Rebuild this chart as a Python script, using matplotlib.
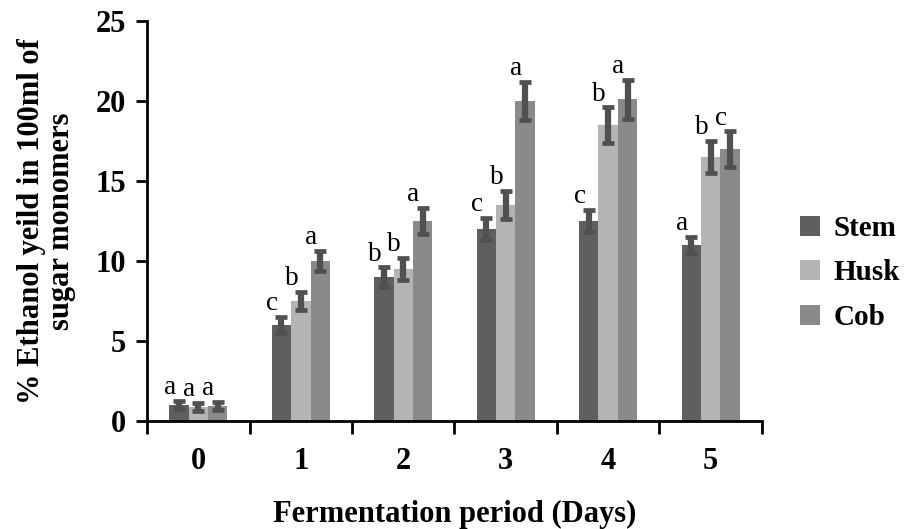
import matplotlib
matplotlib.use("Agg")
import matplotlib.pyplot as plt
import numpy as np
from matplotlib.patches import Patch

# Fermentation days and ethanol yield per substrate
days = ["0", "1", "2", "3", "4", "5"]
series_names = ["Stem", "Husk", "Cob"]
stem = [1.0, 6.0, 9.0, 12.0, 12.5, 11.0]
husk = [0.9, 7.5, 9.5, 13.5, 18.5, 16.5]
cob = [0.95, 10.0, 12.5, 20.0, 20.1, 17.0]
stem_err = [0.25, 0.5, 0.6, 0.7, 0.7, 0.5]
husk_err = [0.25, 0.55, 0.7, 0.9, 1.1, 1.0]
cob_err = [0.25, 0.65, 0.8, 1.2, 1.2, 1.1]
# Significance letters above each bar
stem_sig = ["a", "c", "b", "c", "c", "a"]
husk_sig = ["a", "b", "b", "b", "b", "b"]
cob_sig = ["a", "a", "a", "a", "a", "c"]
y_ticks = [0, 5, 10, 15, 20, 25]

colors = ["#5f5f5f", "#b4b4b4", "#8a8a8a"]
err_color = "#505050"
serif = ["Liberation Serif", "DejaVu Serif"]

plt.rcParams["font.family"] = serif
plt.rcParams["font.weight"] = "bold"

fig = plt.figure(figsize=(9.11, 5.29), dpi=100)
ax = fig.add_axes([0.1614, 0.2042, 0.675, 0.756])

x = np.arange(len(days))
width = 0.19
offsets = [-width, 0.0, width]
values = [stem, husk, cob]
errors = [stem_err, husk_err, cob_err]
sigs = [stem_sig, husk_sig, cob_sig]

for vals, errs, sig, off, col in zip(values, errors, sigs, offsets, colors):
    ax.bar(x + off, vals, width=width, color=col, edgecolor="none", zorder=2)
    ax.errorbar(x + off, vals, yerr=errs, fmt="none", ecolor=err_color,
                elinewidth=4.5, capsize=4.0, capthick=3.4, zorder=3)
    for xi, v, e, s in zip(x + off, vals, errs, sig):
        ax.text(xi - 0.09, v + e + 0.05, s, ha="center", va="bottom",
                fontsize=19.5, fontweight="normal", color="black",
                family=serif, zorder=4)

ax.set_xlim(-0.5, len(days) - 0.5)
ax.set_ylim(0, 25)
ax.set_yticks(y_ticks)
ax.set_xticks(x)
ax.set_xticklabels(days)
ax.set_xticks(np.arange(-0.5, len(days), 1.0), minor=True)
ax.tick_params(axis="x", which="major", length=0, pad=19, labelsize=22)
ax.tick_params(axis="x", which="minor", length=9, width=2, direction="out")
ax.tick_params(axis="y", which="major", length=8, width=2, direction="out",
               pad=7, labelsize=22)
for lab in ax.get_xticklabels() + ax.get_yticklabels():
    lab.set_fontweight("bold")

for side in ["top", "right"]:
    ax.spines[side].set_visible(False)
for side in ["left", "bottom"]:
    ax.spines[side].set_linewidth(2)
    ax.spines[side].set_color("black")

ax.set_xlabel("Fermentation period (Days)", fontsize=22, fontweight="bold",
              labelpad=17)
ax.set_ylabel("% Ethanol yeild in 100ml of\nsugar monomers", fontsize=22,
              fontweight="bold", labelpad=14, linespacing=1.05)

handles = [Patch(facecolor=c, edgecolor="none") for c in colors]
fig.legend(handles, series_names, loc="center left",
           bbox_to_anchor=(0.862, 0.484), frameon=False, borderpad=0,
           handlelength=0.7, handleheight=0.7, handletextpad=0.45,
           labelspacing=0.6, prop={"family": serif, "weight": "bold",
                                   "size": 21})

fig.savefig("out.png", dpi=100)
